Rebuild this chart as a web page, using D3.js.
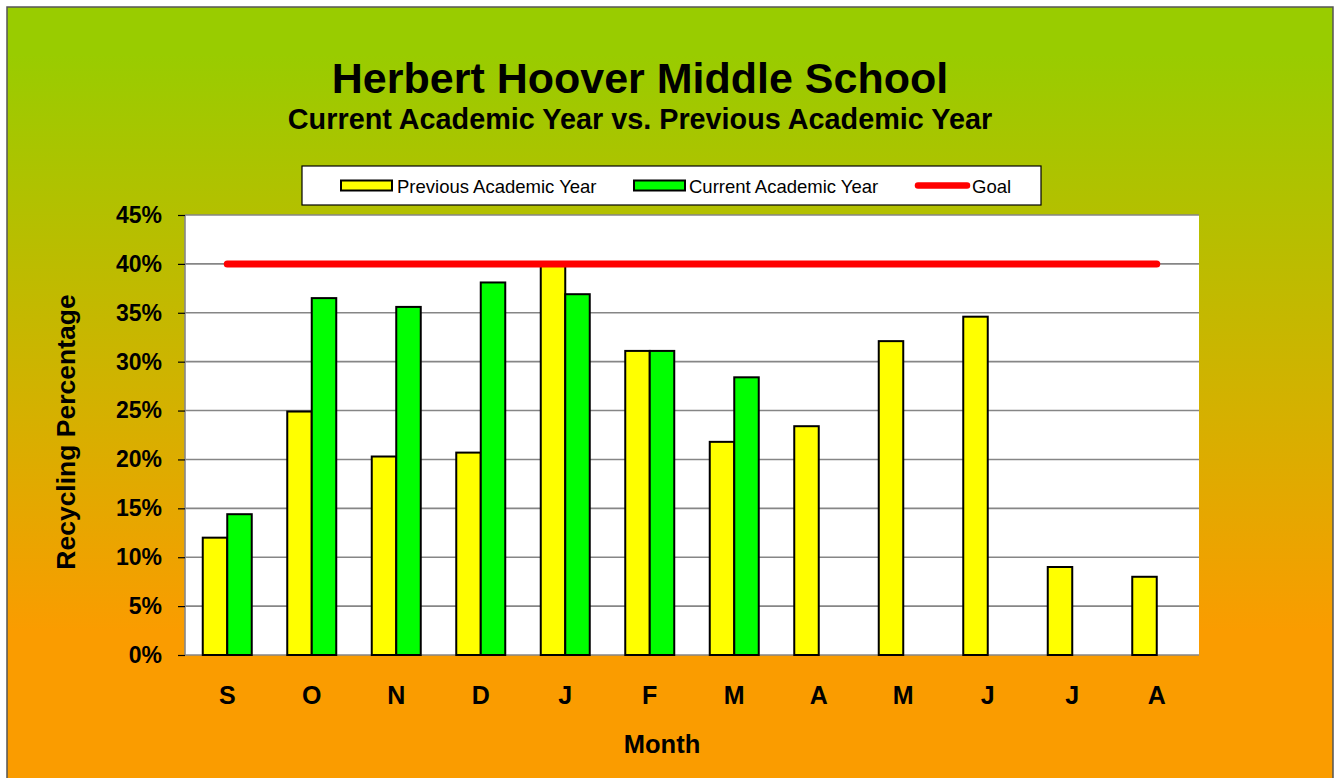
<!DOCTYPE html>
<html><head><meta charset="utf-8">
<script src="https://cdn.jsdelivr.net/npm/d3@7"></script>
<style>html,body{margin:0;padding:0;background:#fff;overflow:hidden}</style>
</head><body>
<svg id="chart" width="1335" height="778"></svg>
<script>
const months = ["S","O","N","D","J","F","M","A","M","J","J","A"];
const previousYear = [12.0, 24.9, 20.3, 20.7, 39.8, 31.1, 21.8, 23.4, 32.1, 34.6, 9.0, 8.0];
const currentYear = [14.4, 36.5, 35.6, 38.1, 36.9, 31.1, 28.4, null, null, null, null, null];
const goal = [40, 40, 40, 40, 40, 40, 40, 40, 40, 40, 40, 40];
const yTicks = [0, 5, 10, 15, 20, 25, 30, 35, 40, 45];
const seriesNames = ["Previous Academic Year", "Current Academic Year", "Goal"];

const svg = d3.select("#chart");
const FONT = "Liberation Sans, Arial, sans-serif";
const defs = svg.append("defs");
const grad = defs.append("linearGradient").attr("id","bg").attr("x1",0).attr("y1",0).attr("x2",0).attr("y2",1);
grad.append("stop").attr("offset","0.06").attr("stop-color","#99CC00");
grad.append("stop").attr("offset","0.5").attr("stop-color","#D2B200");
grad.append("stop").attr("offset","0.8").attr("stop-color","#FA9C00");
grad.append("stop").attr("offset","1").attr("stop-color","#FA9C00");

svg.append("rect").attr("x",7).attr("y",7).attr("width",1326).attr("height",780)
  .attr("fill","url(#bg)").attr("stroke","#555").attr("stroke-width",1.5);

const m = {left:185, right:1199, top:215, bottom:655};
const x = d3.scaleBand().domain(d3.range(months.length)).range([m.left, m.right]).paddingInner(0).paddingOuter(0);
const y = d3.scaleLinear().domain([0,45]).range([m.bottom, m.top]);
const bw = 24.5;

// plot area
svg.append("rect").attr("x",m.left).attr("y",m.top).attr("width",m.right-m.left).attr("height",m.bottom-m.top).attr("fill","#fff");

// gridlines
svg.append("g").selectAll("line").data(yTicks).join("line")
  .attr("x1",m.left).attr("x2",m.right).attr("y1",d=>y(d)).attr("y2",d=>y(d))
  .attr("stroke","#868686").attr("stroke-width",1.6);

// y axis
const yAxis = d3.axisLeft(y).tickValues(yTicks).tickFormat(d=>d+"%").tickSize(7).tickPadding(16);
const ga = svg.append("g").attr("transform",`translate(${m.left},0)`).call(yAxis);
ga.select(".domain").attr("stroke","#868686").attr("stroke-width",1.6).attr("d",`M0,${m.top}V${m.bottom}`);
ga.selectAll(".tick line").attr("stroke","#000").attr("stroke-width",1.2);
ga.selectAll(".tick text").attr("font-family",FONT).attr("font-weight","bold")
  .attr("font-size","23px").attr("fill","#000");

// bars
const g = svg.append("g");
g.selectAll(".prev").data(previousYear).join("rect").attr("class","prev")
  .attr("x",(d,i)=>x(i)+x.bandwidth()/2-bw).attr("width",bw)
  .attr("y",d=>y(d)).attr("height",d=>y(0)-y(d))
  .attr("fill","#FFFF00").attr("stroke","#000").attr("stroke-width",2);
g.selectAll(".cur").data(currentYear.map((v,i)=>({v,i})).filter(d=>d.v!=null)).join("rect").attr("class","cur")
  .attr("x",d=>x(d.i)+x.bandwidth()/2).attr("width",bw)
  .attr("y",d=>y(d.v)).attr("height",d=>y(0)-y(d.v))
  .attr("fill","#00FF00").attr("stroke","#000").attr("stroke-width",2);

// goal line
const line = d3.line().x((d,i)=>x(i)+x.bandwidth()/2).y(d=>y(d));
svg.append("path").datum(goal).attr("d",line).attr("fill","none")
  .attr("stroke","#FF0000").attr("stroke-width",7).attr("stroke-linecap","round");

// x labels
svg.append("g").selectAll("text").data(months).join("text")
  .attr("x",(d,i)=>x(i)+x.bandwidth()/2).attr("y",704)
  .attr("text-anchor","middle").attr("font-family",FONT)
  .attr("font-weight","bold").attr("font-size","25px").text(d=>d);

// titles
svg.append("text").attr("x",640).attr("y",93).attr("text-anchor","middle")
  .attr("font-family",FONT).attr("font-weight","bold").attr("font-size","43px")
  .text("Herbert Hoover Middle School");
svg.append("text").attr("x",640).attr("y",129).attr("text-anchor","middle")
  .attr("font-family",FONT).attr("font-weight","bold").attr("font-size","28.8px")
  .text("Current Academic Year vs. Previous Academic Year");
svg.append("text").attr("x",662).attr("y",753).attr("text-anchor","middle")
  .attr("font-family",FONT).attr("font-weight","bold").attr("font-size","25.5px")
  .text("Month");
svg.append("text").attr("transform","translate(75,432) rotate(-90)").attr("text-anchor","middle")
  .attr("font-family",FONT).attr("font-weight","bold").attr("font-size","26.5px")
  .text("Recycling Percentage");

// legend
const lg = svg.append("g");
lg.append("rect").attr("x",302).attr("y",166).attr("width",739).attr("height",39).attr("fill","#fff").attr("stroke","#000").attr("stroke-width",1.2);
const legendItems = [
  {name:seriesNames[0], type:"rect", color:"#FFFF00", sx:341, tx:397},
  {name:seriesNames[1], type:"rect", color:"#00FF00", sx:634, tx:689},
  {name:seriesNames[2], type:"line", color:"#FF0000", sx:915, tx:972}
];
legendItems.forEach(it=>{
  if(it.type==="rect"){
    lg.append("rect").attr("x",it.sx).attr("y",180.5).attr("width",51).attr("height",10).attr("fill",it.color).attr("stroke","#000").attr("stroke-width",2);
  } else {
    lg.append("line").attr("x1",it.sx+3).attr("x2",it.sx+52).attr("y1",185.5).attr("y2",185.5).attr("stroke",it.color).attr("stroke-width",6.5).attr("stroke-linecap","round");
  }
  lg.append("text").attr("x",it.tx).attr("y",192.5).attr("font-family","Liberation Sans Narrow, Arial Narrow, sans-serif")
    .attr("font-size","18.5px").attr("fill","#000").text(it.name);
});
</script>
</body></html>
